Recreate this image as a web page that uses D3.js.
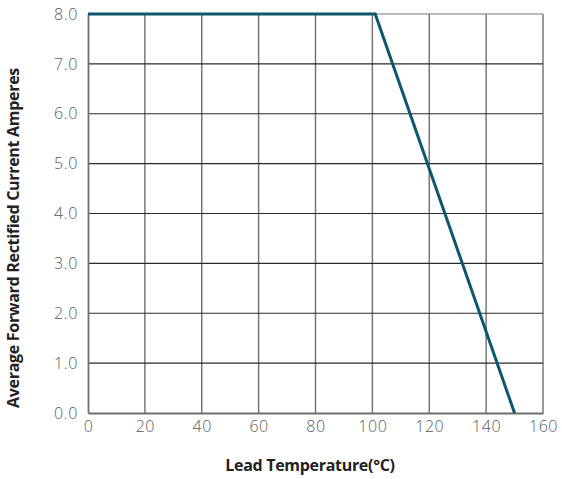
<!DOCTYPE html>
<html>
<head>
<meta charset="utf-8">
<script src="https://cdn.jsdelivr.net/npm/d3@7"></script>
<style>
  body { margin: 0; background: #fff; }
  .tick text { font-family: "Open Sans", sans-serif; font-weight: 300; font-size: 16px; fill: #5a5a5a; letter-spacing: 0.6px; }
  .title { font-family: "Open Sans", sans-serif; font-weight: 700; font-size: 16px; fill: #222; letter-spacing: -0.3px; }
</style>
</head>
<body>
<div id="chart"></div>
<script>
// data
var temps = [0, 101, 150];
var amps = [8, 8, 0];
var xTicks = [0, 20, 40, 60, 80, 100, 120, 140, 160];
var yTicks = [0, 1, 2, 3, 4, 5, 6, 7, 8];

var width = 562;
var height = 479;
var plotLeft = 88, plotRight = 543, plotTop = 14, plotBottom = 413;

var svg = d3.select("#chart")
  .append("svg")
  .attr("width", width)
  .attr("height", height);

var x = d3.scaleLinear().domain([0, 160]).range([plotLeft, plotRight]);
var y = d3.scaleLinear().domain([0, 8]).range([plotBottom, plotTop]);

// grid
svg.append("g")
  .selectAll("line")
  .data(xTicks.slice(1))
  .enter()
  .append("line")
  .attr("x1", d => x(d)).attr("x2", d => x(d))
  .attr("y1", plotTop).attr("y2", plotBottom)
  .attr("stroke", "#6f6f6f")
  .attr("stroke-width", 1.4);

svg.append("g")
  .selectAll("line")
  .data(yTicks.slice(1))
  .enter()
  .append("line")
  .attr("x1", plotLeft).attr("x2", plotRight)
  .attr("y1", d => y(d)).attr("y2", d => y(d))
  .attr("stroke", d => d == 8 ? "#777" : "#2a2a2a")
  .attr("stroke-width", 1.1);

// axes
var xAxis = svg.append("g")
  .attr("transform", `translate(0, ${plotBottom})`)
  .call(d3.axisBottom(x).tickValues(xTicks).tickSize(0).tickPadding(8).tickFormat(d3.format("d")));
xAxis.select(".domain").attr("stroke", "#6f6f6f").attr("stroke-width", 1.8);

var yAxis = svg.append("g")
  .attr("transform", `translate(${plotLeft}, 0)`)
  .call(d3.axisLeft(y).tickValues(yTicks).tickSize(0).tickPadding(10).tickFormat(d3.format(".1f")));
yAxis.select(".domain").attr("stroke", "#6f6f6f").attr("stroke-width", 1.8);

// curve
var line = d3.line()
  .x((d, i) => x(temps[i]))
  .y((d, i) => y(amps[i]));

svg.append("path")
  .datum(temps)
  .attr("d", line)
  .attr("fill", "none")
  .attr("stroke", "#0d566f")
  .attr("stroke-width", 3);

// titles
svg.append("text")
  .attr("class", "title")
  .attr("x", 310)
  .attr("y", 471)
  .attr("text-anchor", "middle")
  .text("Lead Temperature(°C)");

svg.append("text")
  .attr("class", "title")
  .attr("transform", "translate(19, 238) rotate(-90)")
  .attr("text-anchor", "middle")
  .text("Average Forward Rectified Current Amperes");
</script>
</body>
</html>
